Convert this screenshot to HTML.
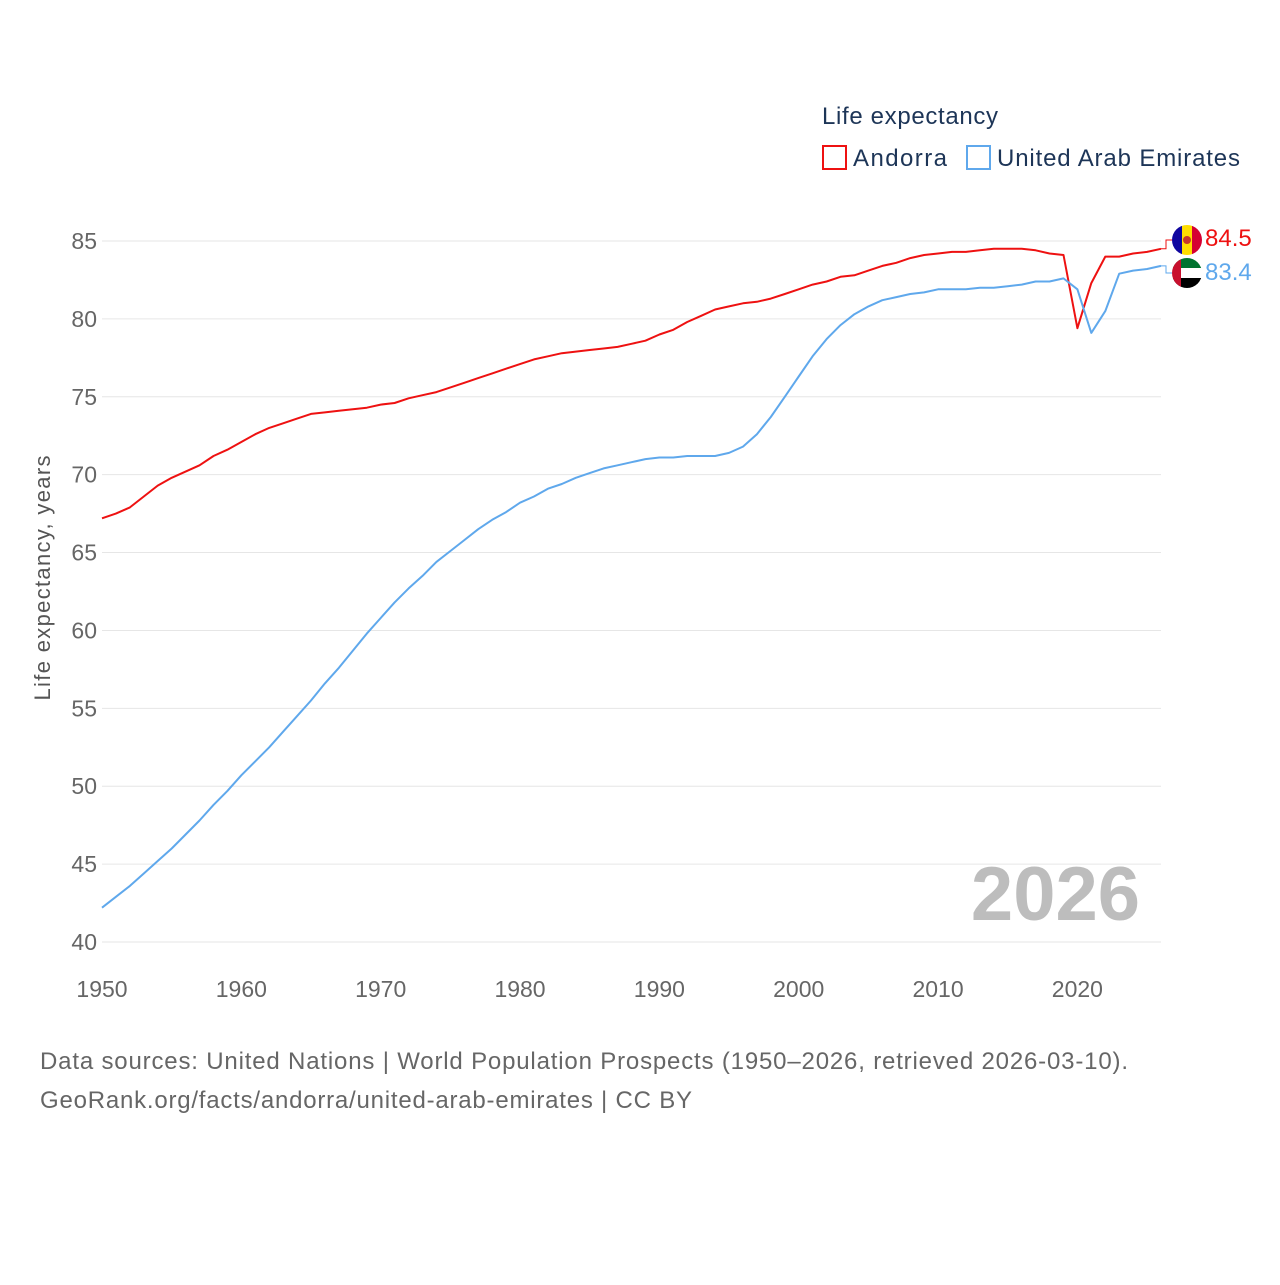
<!DOCTYPE html>
<html><head><meta charset="utf-8">
<style>
body{margin:0;background:#fff;font-family:"Liberation Sans",sans-serif;}
svg text{font-family:"Liberation Sans",sans-serif;}
</style></head>
<body>
<svg id="chart" width="1280" height="1280" viewBox="0 0 1280 1280">
<text x="822" y="124" font-size="24" fill="#1d3557" textLength="176">Life expectancy</text>
<g>
<rect x="823" y="146" width="23" height="23" fill="none" stroke="#ee1111" stroke-width="2"/>
<text x="853" y="166" font-size="24" fill="#1d3557" textLength="94">Andorra</text></g>
<g>
<rect x="967" y="146" width="23" height="23" fill="none" stroke="#5fa8ec" stroke-width="2"/>
<text x="997" y="166" font-size="24" fill="#1d3557" textLength="243">United Arab Emirates</text></g>
<text transform="translate(50,578) rotate(-90)" text-anchor="middle" font-size="22" fill="#555" textLength="245">Life expectancy, years</text>
<g id="grid"></g><g id="yt"></g><g id="xt"></g>
<text x="1140" y="920" text-anchor="end" font-size="76" font-weight="bold" fill="#bdbdbd">2026</text>
<g id="series"></g>
<g>
<clipPath id="c1"><circle cx="1187" cy="240" r="15"/></clipPath>
<g clip-path="url(#c1)"><rect x="1172" y="225" width="10" height="30" fill="#10069f"/><rect x="1182" y="225" width="10" height="30" fill="#fedd00"/><rect x="1192" y="225" width="10" height="30" fill="#d50032"/><circle cx="1187" cy="240" r="4" fill="#c7362b"/></g></g>
<g>
<clipPath id="c2"><circle cx="1187" cy="273" r="15"/></clipPath>
<g clip-path="url(#c2)"><rect x="1172" y="258" width="30" height="10" fill="#00732f"/><rect x="1172" y="268" width="30" height="10" fill="#fff"/><rect x="1172" y="278" width="30" height="10" fill="#000"/><rect x="1172" y="258" width="9" height="30" fill="#c8102e"/></g></g>
<text x="1205" y="246" font-size="24" fill="#ee1111">84.5</text>
<text x="1205" y="280" font-size="24" fill="#5fa8ec">83.4</text>
<text x="40" y="1069" font-size="24" fill="#666" textLength="1088">Data sources: United Nations | World Population Prospects (1950–2026, retrieved 2026-03-10).</text>
<text x="40" y="1108" font-size="24" fill="#666" textLength="652">GeoRank.org/facts/andorra/united-arab-emirates | CC BY</text>
</svg>
<script>
const years=[];for(let y=1950;y<=2026;y++)years.push(y);
const andorra=[67.2,67.5,67.9,68.6,69.3,69.8,70.2,70.6,71.2,71.6,72.1,72.6,73.0,73.3,73.6,73.9,74.0,74.1,74.2,74.3,74.5,74.6,74.9,75.1,75.3,75.6,75.9,76.2,76.5,76.8,77.1,77.4,77.6,77.8,77.9,78.0,78.1,78.2,78.4,78.6,79.0,79.3,79.8,80.2,80.6,80.8,81.0,81.1,81.3,81.6,81.9,82.2,82.4,82.7,82.8,83.1,83.4,83.6,83.9,84.1,84.2,84.3,84.3,84.4,84.5,84.5,84.5,84.4,84.2,84.1,79.4,82.3,84.0,84.0,84.2,84.3,84.5];
const uae=[42.2,42.9,43.6,44.4,45.2,46.0,46.9,47.8,48.8,49.7,50.7,51.6,52.5,53.5,54.5,55.5,56.6,57.6,58.7,59.8,60.8,61.8,62.7,63.5,64.4,65.1,65.8,66.5,67.1,67.6,68.2,68.6,69.1,69.4,69.8,70.1,70.4,70.6,70.8,71.0,71.1,71.1,71.2,71.2,71.2,71.4,71.8,72.6,73.7,75.0,76.3,77.6,78.7,79.6,80.3,80.8,81.2,81.4,81.6,81.7,81.9,81.9,81.9,82.0,82.0,82.1,82.2,82.4,82.4,82.6,81.9,79.1,80.5,82.9,83.1,83.2,83.4];
const yTicks=[40,45,50,55,60,65,70,75,80,85];
const xTicks=[1950,1960,1970,1980,1990,2000,2010,2020];
const NS="http://www.w3.org/2000/svg";
const X=y=>102+(y-1950)*(1161-102)/76;
const Y=v=>942-(v-40)*(942-241)/45;
function mk(t,a,p){const e=document.createElementNS(NS,t);for(const k in a)e.setAttribute(k,a[k]);document.getElementById(p).appendChild(e);return e;}
yTicks.forEach(v=>{
 const l=mk('line',{x1:102,x2:1161,y1:Y(v),y2:Y(v),stroke:'#e6e6e6','stroke-width':1},'grid');
 
 
 const t=mk('text',{x:97,y:Y(v)+8,'text-anchor':'end','font-size':23,fill:'#666'},'yt');
 t.textContent=v;
 
 
});
xTicks.forEach(v=>{
 const t=mk('text',{x:X(v),y:997,'text-anchor':'middle','font-size':23,fill:'#666'},'xt');
 t.textContent=v;
 
 
});
function line(d,c,n,ly){
 const p=mk('path',{d:'M'+d.map((v,i)=>X(years[i]).toFixed(1)+','+Y(v).toFixed(1)).join('L'),fill:'none',stroke:c,'stroke-width':2,'stroke-linejoin':'round'},'series');
 
 
 const last=Y(d[d.length-1]);
 const c2=mk('path',{d:`M1161,${last}H1166V${ly}H1172`,fill:'none',stroke:c,'stroke-width':1},'series');
 
 
}
line(andorra,'#ee1111','andorra',240);
line(uae,'#5fa8ec','uae',273);
</script>
</body></html>
